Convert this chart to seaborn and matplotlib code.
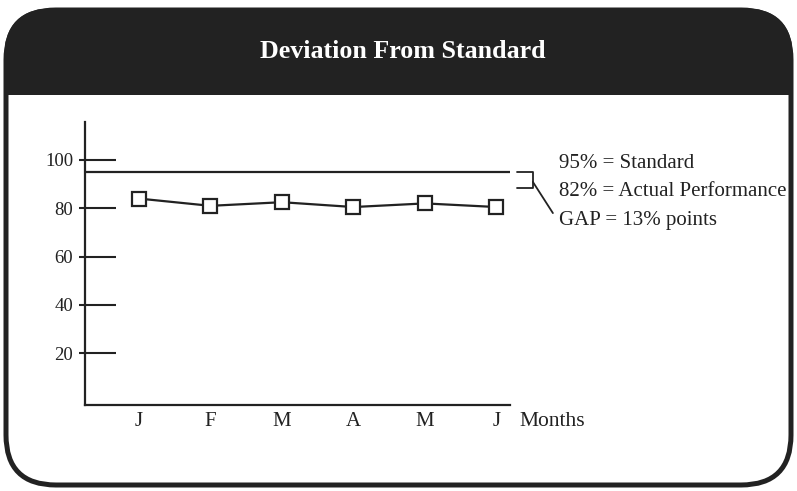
import matplotlib
matplotlib.use("Agg")
import matplotlib.pyplot as plt
import seaborn as sns
import pandas as pd
from matplotlib.patches import FancyBboxPatch, Rectangle
from matplotlib.transforms import IdentityTransform, blended_transform_factory

# ---- data -------------------------------------------------------------
months = ["J", "F", "M", "A", "M", "J"]
performance = [84, 81, 82.5, 80.5, 82, 80.5]
standard = 95
y_ticks = [20, 40, 60, 80, 100]
title = "Deviation From Standard"
notes = ["95% = Standard", "82% = Actual Performance", "GAP = 13% points"]
x_title = "Months"

W, H = 797, 491
INK = "#222222"

sns.set_theme(style="white")
plt.rcParams["font.family"] = ["Liberation Serif", "DejaVu Serif"]

fig = plt.figure(figsize=(W / 100, H / 100), dpi=100)
fig.patch.set_facecolor("white")


def box(x0, y_top, x1, y_bot, **kw):
    """Rounded box in pixel coordinates measured from the top-left corner."""
    return FancyBboxPatch((x0, H - y_bot), x1 - x0, y_bot - y_top,
                          boxstyle="round,pad=0,rounding_size=50",
                          transform=IdentityTransform(), **kw)


# card: dark header band, white body, thick rounded outline
fig.patches.append(box(4, 8, 793, 487, facecolor="white", edgecolor="none", zorder=-5))
fig.patches.append(box(4, 8, 793, 250, facecolor=INK, edgecolor="none", zorder=-4))
fig.patches.append(Rectangle((4, H - 300), 789, 300 - 95, facecolor="white",
                             edgecolor="none", transform=IdentityTransform(), zorder=-3))
fig.patches.append(box(6, 10, 791, 485, facecolor="none", edgecolor=INK,
                       linewidth=3.6, zorder=10))

fig.text(403 / W, 1 - 52 / H, title, color="white", fontsize=18.7,
         fontweight="bold", ha="center", va="center")

# ---- chart ------------------------------------------------------------
ax = fig.add_axes([85 / W, (H - 405) / H, (510 - 85) / W, (405 - 122) / H])
ax.set_facecolor("none")

df = pd.DataFrame({"pos": range(len(months)), "value": performance})
sns.lineplot(data=df, x="pos", y="value", ax=ax, color=INK, linewidth=1.6,
             marker="s", markersize=10, markerfacecolor="white",
             markeredgecolor=INK, markeredgewidth=1.6, zorder=5)

ax.axhline(standard, color=INK, linewidth=1.6)

ax.set_xlim(-0.755, 5.19)
ax.set_ylim(-1.45, 115.7)
ax.set_xticks(range(len(months)), months)
ax.set_yticks(y_ticks, [str(v) for v in y_ticks])
ax.tick_params(axis="x", length=0, pad=5, labelsize=15, colors=INK)
ax.tick_params(axis="y", length=0, pad=8.5, labelsize=13.5, colors=INK)
ax.set_xlabel("")
ax.set_ylabel("")

sns.despine(ax=ax)
for side in ("left", "bottom"):
    ax.spines[side].set_color(INK)
    ax.spines[side].set_linewidth(1.6)

# tick dashes crossing the value axis
trans = blended_transform_factory(ax.transAxes, ax.transData)
for v in y_ticks:
    ax.plot([-0.015, 0.074], [v, v], transform=trans, color=INK,
            linewidth=1.5, clip_on=False, solid_capstyle="butt")

# bracket marking the gap between standard and actual
gap_top, gap_bot = standard, 88.4
ax.plot([5.287, 5.51, 5.51, 5.287], [gap_top, gap_top, gap_bot, gap_bot],
        color=INK, linewidth=1.3, clip_on=False)
ax.plot([5.51, 5.79], [90.9, 78.0], color=INK, linewidth=1.3, clip_on=False)

for text, y in zip(notes, [163, 192, 220]):
    fig.text(559 / W, 1 - y / H, text, fontsize=15, color=INK,
             ha="left", va="center")

fig.text(519 / W, 1 - 421 / H, x_title, fontsize=15.5, color=INK,
         ha="left", va="center")

fig.savefig("out.png", dpi=100)
